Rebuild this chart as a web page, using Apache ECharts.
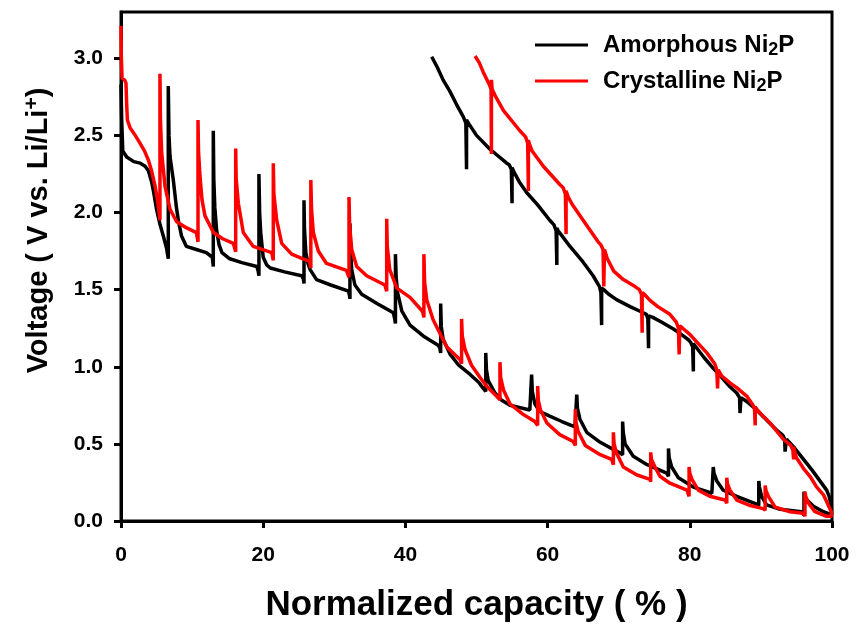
<!DOCTYPE html>
<html>
<head>
<meta charset="utf-8">
<script src="https://cdn.jsdelivr.net/npm/echarts@6/dist/echarts.min.js"></script>
<style>
html,body{margin:0;padding:0;background:#fff;}
#chart{width:857px;height:632px;}
</style>
</head>
<body>
<div id="chart"></div>
<script>
// ---- Data (x: normalized capacity %, y: voltage V) ----
const seriesNames = ['Amorphous Ni2P', 'Crystalline Ni2P'];
const xTicks = [0, 20, 40, 60, 80, 100];
const yTicks = [0, 0.5, 1.0, 1.5, 2.0, 2.5, 3.0];

const amorphousDischarge = [
  [0,2.83],[0.1,2.6],[0.25,2.40],[0.8,2.36],[1.8,2.33],[2.7,2.32],[3.4,2.30],[3.85,2.27],[4.3,2.20],[4.6,2.13],[5.0,2.02],[5.5,1.92],[6.0,1.84],[6.4,1.77],[6.65,1.70],
  [6.65,2.82],[6.75,2.50],[6.9,2.36],[7.36,2.21],[7.8,2.03],[8.1,1.94],[8.5,1.85],[9.2,1.78],[10.6,1.76],[12.0,1.74],[12.85,1.71],[12.98,1.65],
  [12.98,2.53],[13.05,2.22],[13.2,2.03],[13.46,1.88],[13.8,1.79],[14.2,1.74],[15.3,1.70],[17.0,1.675],[19.1,1.65],[19.3,1.62],[19.4,1.59],
  [19.4,2.25],[19.5,2.0],[19.65,1.87],[20.0,1.71],[20.5,1.66],[21.0,1.64],[23.0,1.615],[25.4,1.59],[25.65,1.57],[25.74,1.54],
  [25.74,2.08],[25.8,1.90],[26.0,1.74],[26.3,1.67],[26.6,1.63],[27.5,1.565],[29.5,1.53],[32.0,1.49],[32.15,1.46],[32.2,1.44],
  [32.2,1.93],[32.3,1.75],[32.45,1.63],[32.9,1.53],[33.85,1.47],[36.0,1.41],[38.3,1.35],[38.5,1.31],[38.6,1.28],
  [38.6,1.73],[38.7,1.58],[38.9,1.48],[39.5,1.36],[40.65,1.27],[42.5,1.20],[44.6,1.14],[44.85,1.12],[44.96,1.09],
  [44.96,1.41],[45.05,1.26],[45.3,1.18],[46.3,1.08],[47.5,1.01],[49.1,0.95],[50.3,0.90],[50.95,0.86],[51.3,0.84],
  [51.3,1.09],[51.4,0.98],[51.65,0.91],[52.6,0.83],[53.5,0.785],[54.7,0.75],[57.5,0.72],[57.75,0.71],
  [57.75,0.95],[57.85,0.84],[58.2,0.76],[58.9,0.71],[60.3,0.68],[62.0,0.645],[63.85,0.61],[64.1,0.60],
  [64.1,0.82],[64.2,0.73],[64.55,0.66],[65.5,0.575],[67.4,0.51],[70.2,0.44],[70.55,0.43],
  [70.55,0.645],[70.65,0.57],[70.9,0.50],[72.05,0.42],[74.0,0.365],[76.75,0.31],[77.0,0.29],
  [77.0,0.47],[77.1,0.41],[77.45,0.35],[78.4,0.28],[80.5,0.22],[83.1,0.18],[83.3,0.17],
  [83.3,0.35],[83.4,0.31],[83.8,0.26],[84.7,0.20],[86.6,0.16],[89.4,0.11],[89.7,0.10],
  [89.7,0.26],[89.8,0.22],[90.1,0.16],[90.8,0.105],[92.7,0.076],[95.7,0.06],[96.06,0.04],
  [96.06,0.19],[96.15,0.17],[96.4,0.14],[97.4,0.095],[98.8,0.06],[99.95,0.04]
];

const amorphousCharge = [
  [99.95,0.04],[99.9,0.10],[99.6,0.16],[99.25,0.20],[98.3,0.26],[97.2,0.33],[96.0,0.40],[94.6,0.48],[93.6,0.53],[93.4,0.54],[93.4,0.45],[93.35,0.53],[93.1,0.555],
  [92.2,0.59],[90.8,0.655],[89.4,0.72],[88.0,0.775],[87.2,0.80],[87.06,0.81],[87.06,0.70],[87.0,0.80],[86.6,0.83],
  [85.65,0.87],[84.5,0.93],[83.3,0.99],[82.0,1.06],[81.0,1.12],[80.5,1.15],[80.5,0.97],[80.4,1.13],[80.1,1.16],
  [79.8,1.175],[78.8,1.21],[77.7,1.245],[76.0,1.29],[74.8,1.32],[74.2,1.33],[74.2,1.12],[74.1,1.31],[73.9,1.34],
  [73.0,1.36],[71.6,1.39],[69.7,1.435],[68.6,1.47],[67.9,1.50],[67.6,1.51],[67.6,1.27],[67.5,1.48],[67.3,1.52],
  [66.4,1.59],[64.8,1.69],[63.15,1.78],[62.0,1.85],[61.5,1.88],[61.3,1.90],[61.3,1.66],[61.2,1.88],[60.9,1.92],
  [60.3,1.95],[58.6,2.05],[57.05,2.13],[56.0,2.20],[55.3,2.26],[55.0,2.29],[55.0,2.06],[54.9,2.28],[54.6,2.31],
  [54.25,2.32],[51.9,2.41],[50.0,2.50],[49.0,2.57],[48.6,2.60],[48.6,2.28],[48.5,2.58],[48.15,2.62],
  [47.2,2.70],[46.2,2.79],[45.3,2.86],[44.5,2.94],[43.7,3.01]
];

const crystallineDischarge = [
  [0,3.21],[0.05,3.0],[0.15,2.87],[0.5,2.86],[0.7,2.84],[0.8,2.70],[0.9,2.60],[1.27,2.55],[2.0,2.50],[2.67,2.45],[3.3,2.40],[3.85,2.34],[4.3,2.27],[4.8,2.17],[5.2,2.06],[5.48,1.95],
  [5.48,2.90],[5.55,2.60],[5.72,2.39],[6.19,2.17],[6.9,2.02],[7.83,1.94],[9.24,1.90],[10.6,1.87],[10.83,1.81],
  [10.83,2.60],[10.9,2.40],[11.1,2.24],[11.4,2.08],[11.8,1.98],[13.0,1.87],[14.3,1.83],[15.8,1.80],[16.13,1.745],
  [16.13,2.415],[16.2,2.22],[16.5,2.06],[17.2,1.87],[18.6,1.78],[21.2,1.74],[21.42,1.69],
  [21.42,2.32],[21.5,2.12],[21.9,1.95],[22.6,1.80],[24.0,1.73],[25.6,1.70],[26.5,1.685],[26.7,1.64],
  [26.7,2.21],[26.8,2.02],[27.05,1.87],[27.75,1.75],[28.9,1.67],[31.7,1.625],[32.07,1.58],
  [32.07,2.10],[32.15,1.92],[32.45,1.76],[33.15,1.65],[34.55,1.59],[37.1,1.53],[37.37,1.49],
  [37.37,1.96],[37.45,1.78],[37.8,1.63],[38.8,1.51],[40.65,1.45],[42.4,1.36],[42.6,1.32],
  [42.6,1.73],[42.7,1.55],[43.0,1.435],[43.9,1.305],[45.8,1.13],[47.7,1.045],[47.9,1.02],
  [47.9,1.31],[48.0,1.20],[48.4,1.11],[49.3,1.01],[50.5,0.93],[51.5,0.87],[52.8,0.81],[53.3,0.785],
  [53.3,1.03],[53.4,0.93],[53.8,0.85],[54.7,0.76],[56.6,0.69],[58.2,0.645],[58.6,0.62],
  [58.6,0.875],[58.7,0.78],[59.0,0.72],[59.9,0.635],[61.7,0.56],[63.6,0.515],[63.9,0.49],
  [63.9,0.725],[64.0,0.64],[64.3,0.58],[65.3,0.49],[67.4,0.43],[69.0,0.40],[69.25,0.365],
  [69.25,0.575],[69.35,0.50],[69.7,0.44],[70.65,0.35],[72.5,0.30],[74.4,0.27],[74.5,0.255],
  [74.5,0.445],[74.6,0.40],[75.1,0.35],[75.8,0.29],[77.2,0.245],[79.6,0.20],[79.9,0.16],
  [79.9,0.35],[80.0,0.31],[80.3,0.27],[81.2,0.20],[82.8,0.16],[84.95,0.136],[85.2,0.115],
  [85.2,0.28],[85.3,0.24],[85.65,0.20],[86.6,0.136],[88.5,0.10],[90.3,0.08],[90.6,0.07],
  [90.6,0.23],[90.7,0.20],[91.05,0.16],[92.0,0.09],[94.1,0.06],[96.0,0.05],[96.2,0.03],
  [96.2,0.19],[96.3,0.16],[96.7,0.115],[97.6,0.06],[99.25,0.03],[99.95,0.03]
];

const crystallineCharge = [
  [99.95,0.03],[99.9,0.06],[99.7,0.08],[99.3,0.12],[98.8,0.17],[97.85,0.22],[96.9,0.29],[96.0,0.34],[95.0,0.41],[94.7,0.46],[94.6,0.48],[94.6,0.40],[94.5,0.46],[94.2,0.49],
  [93.15,0.53],[91.3,0.635],[90.3,0.68],[89.5,0.72],[89.2,0.74],[89.2,0.62],[89.1,0.73],[88.9,0.75],
  [88.0,0.81],[86.6,0.865],[85.65,0.895],[84.5,0.94],[84.0,0.98],[83.9,0.99],[83.9,0.86],[83.8,0.98],[83.5,1.02],
  [82.4,1.09],[80.0,1.21],[79.0,1.25],[78.6,1.265],[78.5,1.27],[78.5,1.08],[78.4,1.25],[78.1,1.29],
  [77.2,1.34],[75.5,1.39],[74.4,1.43],[73.6,1.47],[73.3,1.48],[73.3,1.22],[73.2,1.47],[72.9,1.50],
  [72.3,1.52],[70.65,1.565],[69.3,1.62],[68.4,1.70],[68.0,1.76],[67.9,1.77],[67.9,1.52],[67.8,1.76],[67.5,1.79],
  [67.1,1.81],[65.0,1.95],[63.5,2.05],[62.9,2.10],[62.6,2.14],[62.6,1.86],[62.5,2.12],[62.2,2.16],
  [61.75,2.18],[59.4,2.30],[57.8,2.40],[57.4,2.45],[57.3,2.47],[57.3,2.14],[57.2,2.45],[56.9,2.49],
  [56.1,2.53],[53.8,2.66],[52.6,2.76],[52.2,2.80],[52.1,2.86],[52.1,2.38],[52.05,2.80],
  [51.8,2.83],[50.95,2.91],[50.4,2.97],[49.8,3.015]
];

// ---- Chart ----
const FONT = 'Liberation Sans, Arial, Helvetica, sans-serif';
const chart = echarts.init(document.getElementById('chart'), null, {renderer: 'canvas'});

const option = {
  animation: false,
  backgroundColor: '#fff',
  grid: {left: 121, right: 25, top: 12, bottom: 111, show: true, borderColor: '#000', borderWidth: 3, containLabel: false},
  legend: {
    orient: 'vertical',
    left: 530,
    top: 28,
    itemWidth: 53,
    itemHeight: 3,
    itemGap: 10,
    icon: 'rect',
    data: seriesNames,
    textStyle: {
      fontFamily: FONT, fontWeight: 'bold', fontSize: 24, color: '#000', padding: [0, 0, 0, 10],
      rich: {
        sub: {fontFamily: FONT, fontWeight: 'bold', fontSize: 18, color: '#000', verticalAlign: 'bottom', padding: [10, 0, 0, 0]}
      }
    },
    formatter: function (n) { return n.replace('2P', '{sub|2}P'); }
  },
  xAxis: {
    type: 'value', min: 0, max: 100, interval: 20,
    name: 'Normalized capacity ( % )', nameLocation: 'middle', nameGap: 67,
    nameTextStyle: {fontFamily: FONT, fontWeight: 'bold', fontSize: 35, color: '#000'},
    axisLine: {show: true, onZero: false, lineStyle: {color: '#000', width: 3}},
    axisTick: {show: true, inside: false, length: 7, lineStyle: {color: '#000', width: 3}, customValues: xTicks},
    axisLabel: {customValues: xTicks, margin: 24, fontFamily: 'Liberation Sans Narrow, Arial Narrow, ' + FONT, fontWeight: 'bold', fontSize: 21, color: '#000'},
    splitLine: {show: false}
  },
  yAxis: {
    type: 'value', min: 0, max: 3.3, interval: 0.5,
    name: 'Voltage ( V vs. Li/Li{sup|+})', nameLocation: 'middle', nameGap: 66, nameRotate: 90,
    nameTextStyle: {fontFamily: FONT, fontWeight: 'bold', fontSize: 29, color: '#000', padding: [0, 0, 0, 72],
      rich: {sup: {fontFamily: FONT, fontWeight: 'bold', fontSize: 21, color: '#000', verticalAlign: 'top', padding: [0, 0, 12, 0]}}},
    axisLine: {show: true, onZero: false, lineStyle: {color: '#000', width: 3}},
    axisTick: {show: true, inside: false, length: 7, lineStyle: {color: '#000', width: 3}, customValues: yTicks},
    axisLabel: {customValues: yTicks, margin: 18, fontFamily: FONT, fontWeight: 'bold', fontSize: 21, color: '#000',
      formatter: function (v) { return v.toFixed(1); }},
    splitLine: {show: false}
  },
  series: [
    {name: seriesNames[0], type: 'line', data: amorphousDischarge.concat(amorphousCharge), symbol: 'none', smooth: false,
     lineStyle: {color: '#000', width: 3.5}, itemStyle: {color: '#000'}, z: 2},
    {name: seriesNames[1], type: 'line', data: crystallineDischarge.concat(crystallineCharge), symbol: 'none', smooth: false,
     lineStyle: {color: '#ff0000', width: 3.5}, itemStyle: {color: '#ff0000'}, z: 3}
  ]
};
chart.setOption(option);
</script>
</body>
</html>
